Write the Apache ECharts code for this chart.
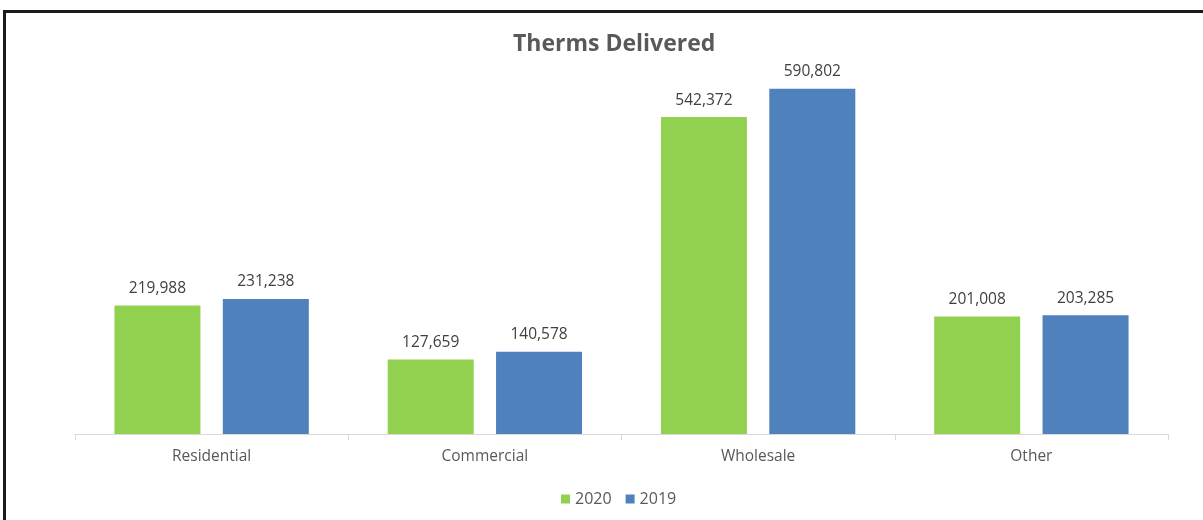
<!DOCTYPE html>
<html>
<head>
<meta charset="utf-8">
<script src="https://cdn.jsdelivr.net/npm/echarts@6/dist/echarts.min.js"></script>
<style>
html,body{margin:0;padding:0;background:#fff;}
#frame{position:absolute;left:3px;top:10px;width:1200px;height:510px;border-top:3px solid #1a1a1a;border-left:3px solid #1a1a1a;box-sizing:border-box;}
#chart{position:absolute;left:0;top:0;width:1203px;height:520px;}
</style>
</head>
<body>
<div id="frame"></div>
<div id="chart"></div>
<script>
const categories = ['Residential', 'Commercial', 'Wholesale', 'Other'];
const values2020 = [219988, 127659, 542372, 201008];
const values2019 = [231238, 140578, 590802, 203285];
const seriesNames = ['2020', '2019'];

const chart = echarts.init(document.getElementById('chart'), null, {renderer: 'canvas'});
const fmt = p => p.value.toLocaleString('en-US');
const FONT = 'Open Sans, DejaVu Sans, sans-serif';
const labelStyle = {
  show: true, position: 'top', distance: 9,
  formatter: fmt, color: '#404040', fontSize: 15.5,
  fontFamily: FONT
};
chart.setOption({
  animation: false,
  backgroundColor: 'transparent',
  title: {
    text: 'Therms Delivered', left: 508, top: 28,
    textStyle: {fontSize: 23, fontWeight: 'bold', color: '#595959', fontFamily: FONT}
  },
  legend: {
    data: seriesNames, top: 486, left: 556,
    itemWidth: 9, itemHeight: 9, itemGap: 14, icon: 'rect',
    textStyle: {fontSize: 16, color: '#595959', fontFamily: FONT}
  },
  grid: {left: 75, right: 35, top: 25, bottom: 86, containLabel: false},
  xAxis: {
    type: 'category', data: categories,
    axisLine: {lineStyle: {color: '#d9d9d9', width: 1}},
    axisTick: {show: true, length: 6, lineStyle: {color: '#d9d9d9'}},
    axisLabel: {fontSize: 15.5, color: '#595959', margin: 15, fontFamily: FONT}
  },
  yAxis: {
    type: 'value', min: 0, max: 700000, show: false,
    splitLine: {show: false}
  },
  series: [
    {name: seriesNames[0], type: 'bar', data: values2020, barWidth: 86, barGap: '26%',
     itemStyle: {color: '#92D050'}, label: labelStyle},
    {name: seriesNames[1], type: 'bar', data: values2019, barWidth: 86, barGap: '26%',
     itemStyle: {color: '#4F81BD'}, label: labelStyle}
  ]
});
</script>
</body>
</html>
